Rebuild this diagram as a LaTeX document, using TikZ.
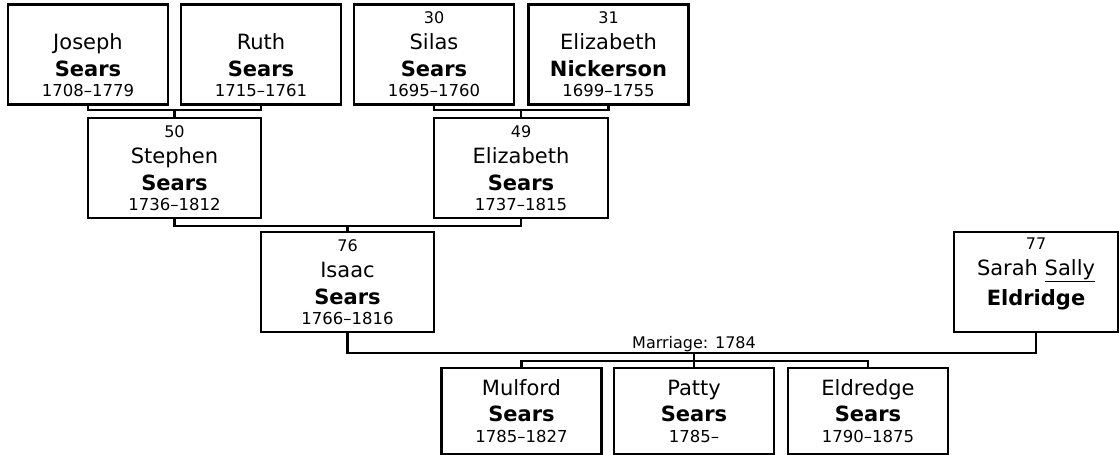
\documentclass[tikz,border=0pt]{standalone}
\usepackage{fontspec}
\setmainfont{DejaVu Sans}

\newcommand{\famtext}[4]{{\fontsize{16}{20}\selectfont #1}\\[6pt]{\fontsize{21}{24}\selectfont #2}\\[7pt]{\fontsize{21}{24}\selectfont\bfseries #3}\\#4}
\newcommand{\kidtext}[3]{{\fontsize{21}{24}\selectfont #1}\\[6pt]{\fontsize{21}{24}\selectfont\bfseries #2}\\[1pt]#3}

\begin{document}
\begin{tikzpicture}[x=1pt, y=-1pt, line width=2.2pt,
  person/.style={rectangle, draw=black, line width=2.2pt, inner sep=0pt, minimum width=160pt, minimum height=100pt, align=center, font=\fontsize{16.5}{20}\selectfont},
  wideperson/.style={person, minimum width=173pt},
  child/.style={person, minimum height=86pt}]
\useasboundingbox (0,0) rectangle (1119,455);

% grandparents
\node[person](joseph) at (88,54.5) {\famtext{\phantom{0}}{Joseph}{Sears}{1708–1779}};
\node[person](ruth) at (261,54.5) {\famtext{\phantom{0}}{Ruth}{Sears}{1715–1761}};
\node[person](silas) at (434,54.5) {\famtext{30}{Silas}{Sears}{1695–1760}};
\node[person](elizn) at (608.5,54.5) {\famtext{31}{Elizabeth}{Nickerson}{1699–1755}};

% parents
\node[wideperson](stephen) at (174.5,168) {\famtext{50}{Stephen}{Sears}{1736–1812}};
\node[wideperson, minimum width=174pt](elizs) at (521,168) {\famtext{49}{Elizabeth}{Sears}{1737–1815}};

% couple
\node[wideperson](isaac) at (347.5,282) {\famtext{76}{Isaac}{Sears}{1766–1816}};
\node[person, minimum width=164pt](sarah) at (1036,282) {\famtext{77}{Sarah \underline{Sally}}{Eldridge}{\phantom{0}}};

% children
\node[child](mulford) at (521.5,411) {\kidtext{Mulford}{Sears}{1785–1827}};
\node[child](patty) at (694,411) {\kidtext{Patty}{Sears}{1785–}};
\node[child](eldredge) at (868,411) {\kidtext{Eldredge}{Sears}{1790–1875}};

\coordinate (jr) at (174.5,110);
\coordinate (sn) at (521,110);
\coordinate (se) at (347.5,226);
\coordinate (wed) at (694,353);
\coordinate (kids) at (694,361);

\draw (joseph.south) |- (jr) -| (ruth.south);
\draw (jr) -- (stephen.north);

\draw (silas.south) |- (sn) -| (elizn.south);
\draw (sn) -- (elizs.north);

\draw (stephen.south) |- (se) -| (elizs.south);
\draw (se) -- (isaac.north);

\draw (isaac.south) |- (wed) -| (sarah.south);
\node[anchor=base, inner sep=0pt, font=\fontsize{16}{20}\selectfont](wedlabel) at (694,348) {Marriage: 1784};

\draw (mulford.north) |- (kids) -| (eldredge.north);
\draw (wed) -- (patty.north);

\end{tikzpicture}
\end{document}
